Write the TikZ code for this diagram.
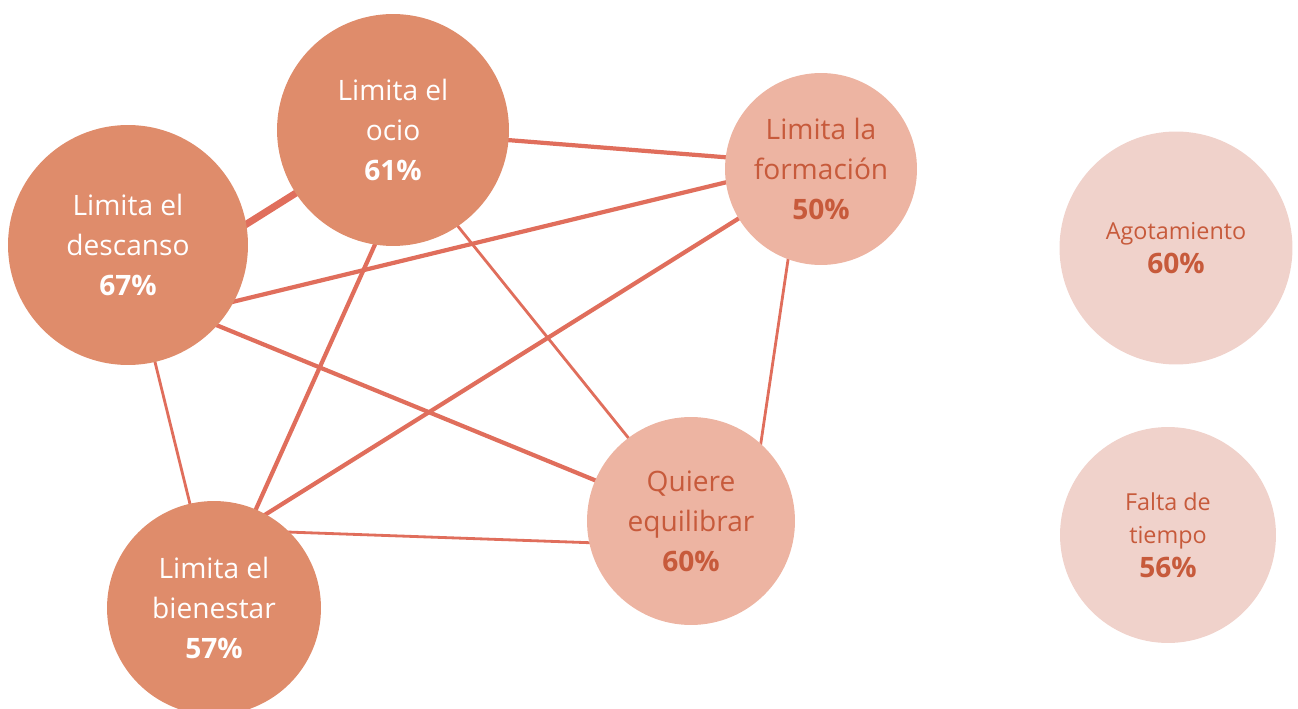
\documentclass[tikz,border=0pt]{standalone}
\usepackage{fontspec}
\setmainfont{Open Sans}
\usetikzlibrary{backgrounds}

\definecolor{darkfill}{HTML}{DF8C6B}
\definecolor{midfill}{HTML}{EDB4A2}
\definecolor{palefill}{HTML}{F0D2CB}
\definecolor{linkred}{HTML}{E06E5C}
\definecolor{labelred}{HTML}{C75A3B}

\begin{document}
\begin{tikzpicture}
  [x=0.02cm, y=-0.02cm,
   bubble/.style={circle, inner sep=0pt, align=center,
     font=\fontsize{16}{22.7}\selectfont},
   darkb/.style={bubble, fill=darkfill, text=white},
   midb/.style={bubble, fill=midfill, text=labelred},
   paleb/.style={bubble, fill=palefill, text=labelred,
     font=\fontsize{13.3}{19}\selectfont},
   link/.style={draw=linkred, shorten <=-4pt, shorten >=-4pt},
   thinlink/.style={link, line width=1.6pt},
   medlink/.style={link, line width=2.4pt},
   thicklink/.style={link, line width=4pt}]
   \useasboundingbox (0,0) rectangle (1298,709);

   \node[darkb, minimum size=4.8cm]  (descanso)   at (128,245)  {Limita el\\descanso\\\textbf{67\%}};
   \node[darkb, minimum size=4.64cm] (ocio)       at (393,130)  {Limita el\\ocio\\\textbf{61\%}};
   \node[midb, minimum size=3.84cm]  (formacion)  at (821,169)  {Limita la\\formación\\\textbf{50\%}};
   \node[midb, minimum size=4.16cm]  (equilibrar) at (691,521)  {Quiere\\equilibrar\\\textbf{60\%}};
   \node[darkb, minimum size=4.28cm] (bienestar)  at (214,608)  {Limita el\\bienestar\\\textbf{57\%}};
   \node[paleb, minimum size=4.66cm] (agotamiento) at (1176,248) {Agotamiento\\{\fontsize{16}{19}\selectfont\bfseries 60\%}};
   \node[paleb, minimum size=4.32cm] (falta)      at (1168,535) {Falta de\\tiempo\\{\fontsize{16}{19}\selectfont\bfseries 56\%}};

   \begin{scope}[on background layer]
   \path
    (descanso.10)    edge[thicklink] (ocio.213)
    (ocio.-5)        edge[medlink]   (formacion.173)
    (descanso.-28)   edge[medlink]   (formacion.188)
    (ocio.261)       edge[medlink]   (bienestar.67)
    (ocio.-56)       edge[thinlink]  (equilibrar.127)
    (descanso.-42)   edge[medlink]   (equilibrar.157)
    (formacion.211)  edge[medlink]   (bienestar.61)
    (formacion.250)  edge[thinlink]  (equilibrar.48)
    (descanso.-77)   edge[thinlink]  (bienestar.103)
    (bienestar.45)   edge[thinlink]  (equilibrar.192);
   \end{scope}
\end{tikzpicture}
\end{document}
